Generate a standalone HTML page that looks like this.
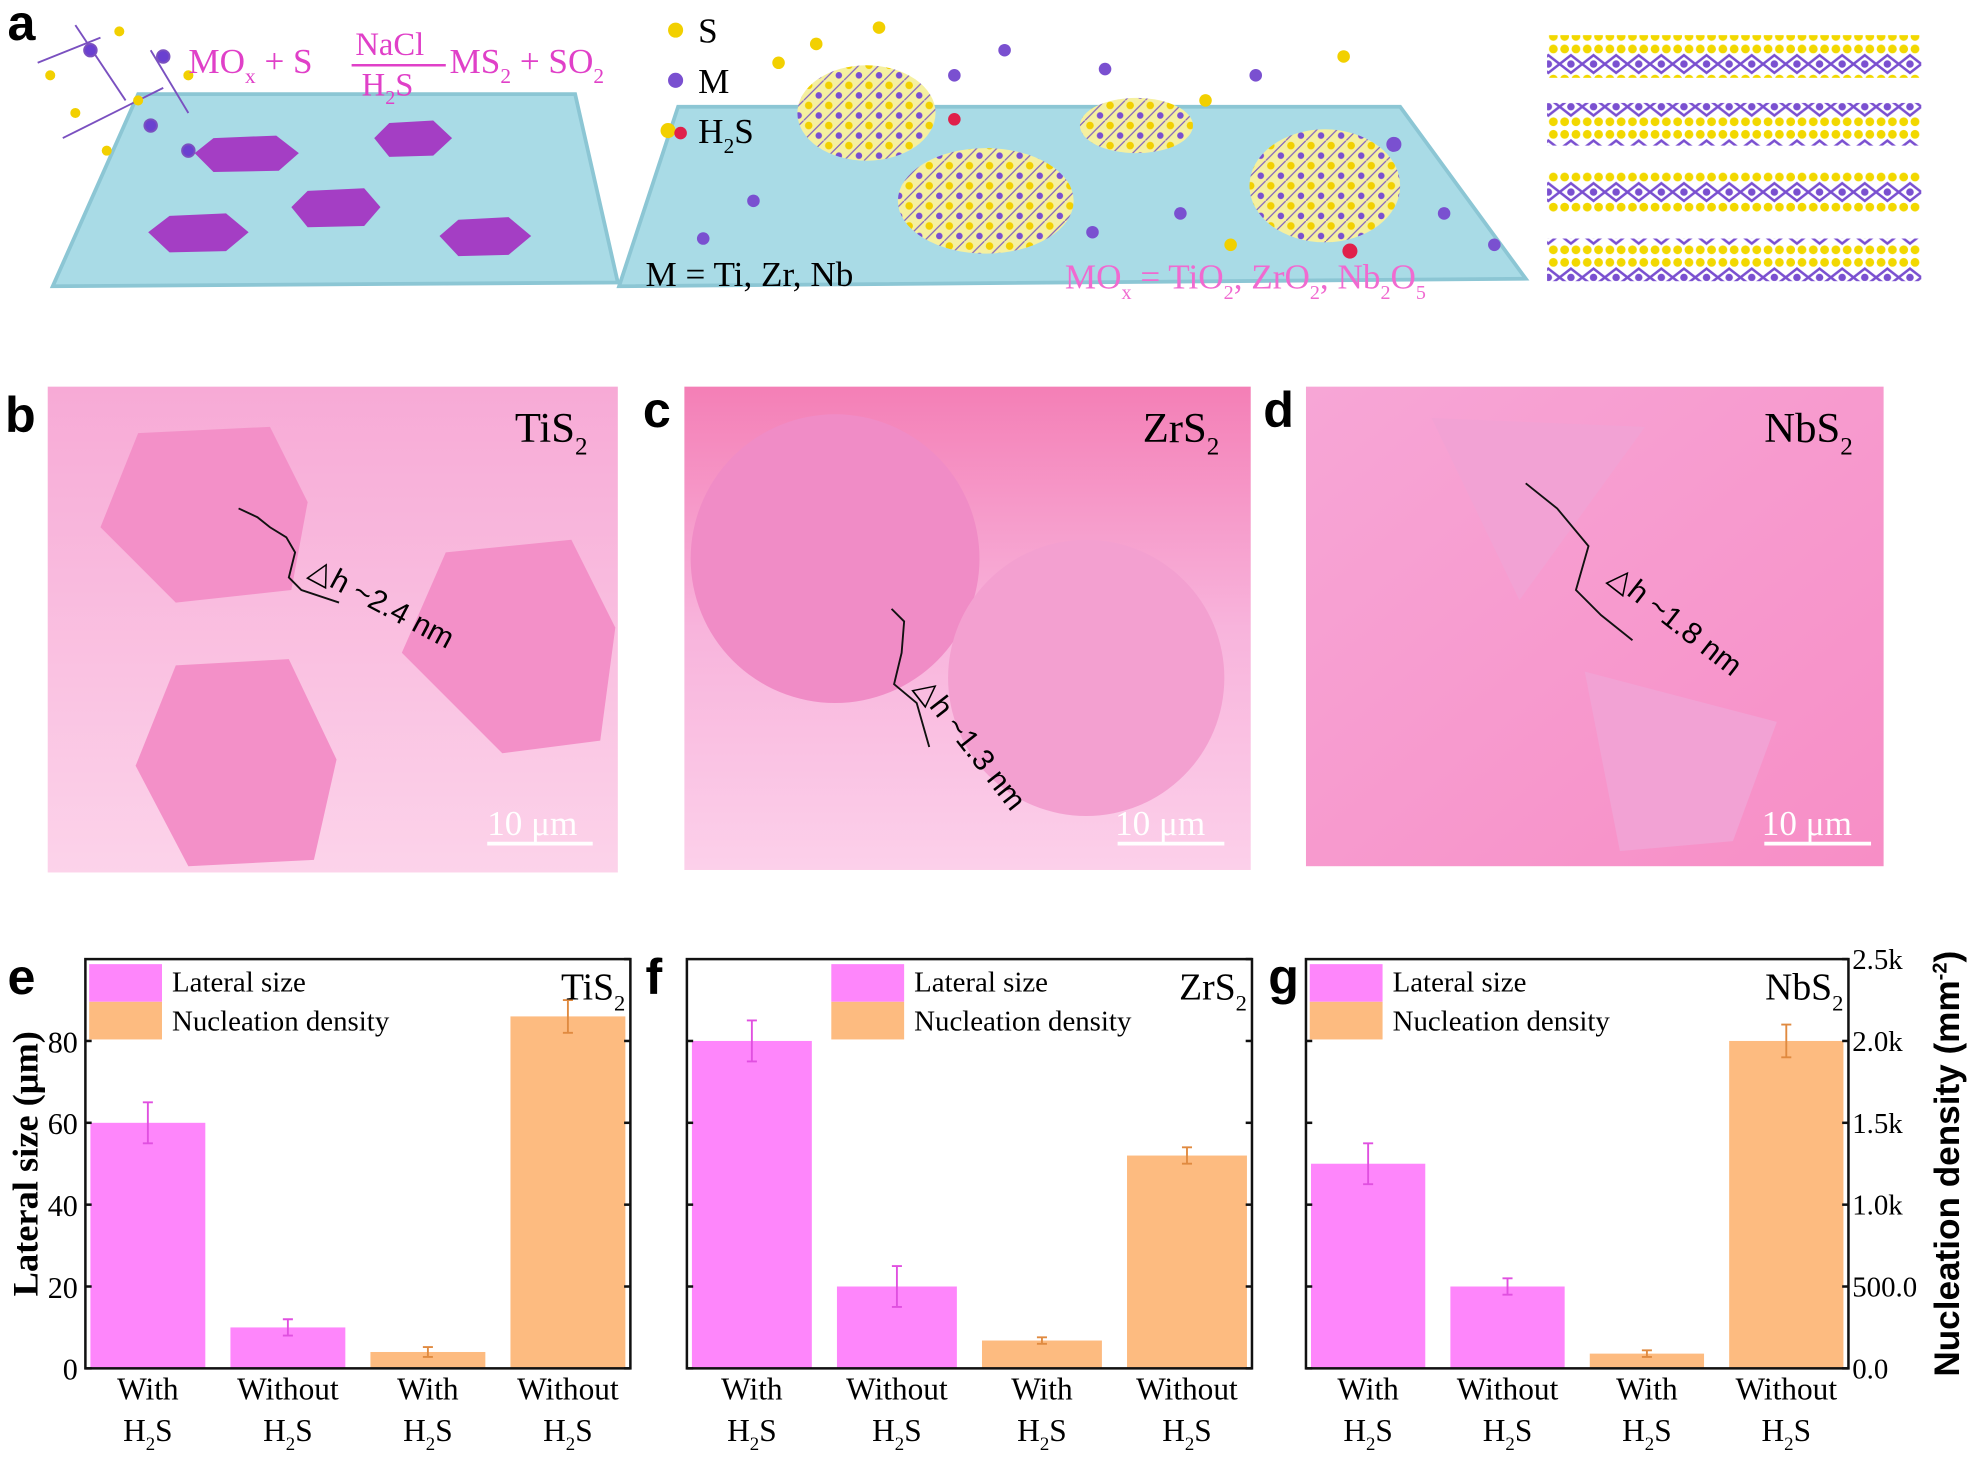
<!DOCTYPE html>
<html><head><meta charset="utf-8"><style>
html,body{margin:0;padding:0;background:#fff;}
svg{display:block;}
.ser{font-family:"Liberation Serif",serif;}
.sans{font-family:"Liberation Sans",sans-serif;}
</style></head><body>
<svg id="fig" width="1969" height="1460" viewBox="0 0 1568 1163" preserveAspectRatio="none" xmlns="http://www.w3.org/2000/svg">
<defs>
<linearGradient id="gb" x1="0" y1="0" x2="0" y2="1"><stop offset="0" stop-color="#f7aad6"/><stop offset="1" stop-color="#fcd3ea"/></linearGradient>
<linearGradient id="gc" x1="0" y1="0" x2="0" y2="1"><stop offset="0" stop-color="#f47fb6"/><stop offset="0.5" stop-color="#f8b4dc"/><stop offset="1" stop-color="#fcd0ea"/></linearGradient>
<linearGradient id="gd" x1="0" y1="0" x2="1" y2="1"><stop offset="0" stop-color="#f7a6d6"/><stop offset="1" stop-color="#f78ec6"/></linearGradient>
<pattern id="lat" width="16" height="16" patternUnits="userSpaceOnUse"><rect width="16" height="16" fill="#f5f0a0"/><circle cx="4" cy="4" r="3" fill="#f2d000"/><circle cx="12" cy="12" r="2.6" fill="#7a50d0"/><path d="M0 16L16 0" stroke="#8060c0" stroke-width="1"/></pattern>
<pattern id="lay" width="18" height="34" patternUnits="userSpaceOnUse"><rect width="18" height="34" fill="#fff"/><circle cx="4" cy="5" r="3.5" fill="#f2d800"/><circle cx="13" cy="5" r="3.5" fill="#f2d800"/><circle cx="4" cy="29" r="3.5" fill="#f2d800"/><circle cx="13" cy="29" r="3.5" fill="#f2d800"/><path d="M0 17L9 10L18 17L9 24Z" fill="none" stroke="#7a50d0" stroke-width="2"/><circle cx="9" cy="17" r="3" fill="#7a50d0"/></pattern>
</defs>

<g>
<text x="6" y="32" class="sans" font-size="40" font-weight="bold">a</text>
<polygon points="110,75 458,75 492,225 42,228" fill="#a9dbe6" stroke="#8cc6d4" stroke-width="3"/>
<g fill="#a43ec4">
<polygon points="170,110 220,108 238,122 222,136 170,137 155,122"/>
<polygon points="310,98 345,96 360,110 345,124 310,125 298,110"/>
<polygon points="245,152 290,150 303,165 290,180 245,181 232,165"/>
<polygon points="135,172 180,170 198,185 180,200 135,201 118,185"/>
<polygon points="365,175 405,173 423,188 405,203 365,204 350,188"/>
</g>
<g stroke="#7a50c0" stroke-width="1.5">
<line x1="30" y1="50" x2="80" y2="30"/><line x1="60" y1="20" x2="100" y2="80"/><line x1="120" y1="40" x2="150" y2="90"/><line x1="50" y1="110" x2="130" y2="70"/>
<circle cx="72" cy="40" r="5" fill="#6a40d0"/><circle cx="120" cy="100" r="5" fill="#6a40d0"/><circle cx="150" cy="120" r="5" fill="#6a40d0"/><circle cx="130" cy="45" r="5" fill="#6a40d0"/>
<circle cx="40" cy="60" r="4" fill="#f2d000" stroke="none"/><circle cx="95" cy="25" r="4" fill="#f2d000" stroke="none"/><circle cx="60" cy="90" r="4" fill="#f2d000" stroke="none"/><circle cx="110" cy="80" r="4" fill="#f2d000" stroke="none"/><circle cx="150" cy="60" r="4" fill="#f2d000" stroke="none"/><circle cx="85" cy="120" r="4" fill="#f2d000" stroke="none"/>
</g>
<text x="150" y="58" class="ser" font-size="28" fill="#e040c8">MO<tspan font-size="17" dy="8">x</tspan><tspan dy="-8"> + S</tspan></text>
<text x="283" y="44" class="ser" font-size="26" fill="#e040c8">NaCl</text>
<line x1="280" y1="52" x2="355" y2="52" stroke="#e040c8" stroke-width="2"/>
<text x="288" y="76" class="ser" font-size="26" fill="#e040c8">H<tspan font-size="16" dy="7">2</tspan><tspan dy="-7">S</tspan></text>
<text x="358" y="58" class="ser" font-size="28" fill="#e040c8">MS<tspan font-size="17" dy="8">2</tspan><tspan dy="-8"> + SO</tspan><tspan font-size="17" dy="8">2</tspan></text>

<polygon points="540,85 1115,85 1215,222 493,228" fill="#a9dbe6" stroke="#8cc6d4" stroke-width="3"/>
<g>
<ellipse cx="690" cy="90" rx="55" ry="38" fill="url(#lat)"/>
<ellipse cx="785" cy="160" rx="70" ry="42" fill="url(#lat)"/>
<ellipse cx="905" cy="100" rx="45" ry="22" fill="url(#lat)"/>
<ellipse cx="1055" cy="148" rx="60" ry="45" fill="url(#lat)"/>
</g>
<g>
<circle cx="620" cy="50" r="5" fill="#f2d000"/><circle cx="650" cy="35" r="5" fill="#f2d000"/><circle cx="700" cy="22" r="5" fill="#f2d000"/><circle cx="760" cy="60" r="5" fill="#7a50d0"/><circle cx="800" cy="40" r="5" fill="#7a50d0"/><circle cx="880" cy="55" r="5" fill="#7a50d0"/><circle cx="960" cy="80" r="5" fill="#f2d000"/><circle cx="1000" cy="60" r="5" fill="#7a50d0"/><circle cx="1110" cy="115" r="6" fill="#7a50d0"/><circle cx="870" cy="185" r="5" fill="#7a50d0"/><circle cx="940" cy="170" r="5" fill="#7a50d0"/><circle cx="980" cy="195" r="5" fill="#f2d000"/><circle cx="1150" cy="170" r="5" fill="#7a50d0"/><circle cx="1190" cy="195" r="5" fill="#7a50d0"/><circle cx="600" cy="160" r="5" fill="#7a50d0"/><circle cx="560" cy="190" r="5" fill="#7a50d0"/><circle cx="1075" cy="200" r="6" fill="#e0204a"/><circle cx="760" cy="95" r="5" fill="#e0204a"/><circle cx="1070" cy="45" r="5" fill="#f2d000"/>
</g>
<g>
<circle cx="538" cy="24" r="6" fill="#f2d000"/><text x="556" y="34" class="ser" font-size="28">S</text>
<circle cx="538" cy="64" r="6" fill="#7a50d0"/><text x="556" y="74" class="ser" font-size="28">M</text>
<circle cx="532" cy="104" r="6" fill="#f2d000"/><circle cx="542" cy="106" r="5" fill="#e0204a"/><text x="556" y="114" class="ser" font-size="28">H<tspan font-size="17" dy="8">2</tspan><tspan dy="-8">S</tspan></text>
</g>
<text x="514" y="228" class="ser" font-size="28">M = Ti, Zr, Nb</text>
<text x="848" y="230" class="ser" font-size="28" fill="#f06ad0">MO<tspan font-size="16" dy="8">x</tspan><tspan dy="-8"> = TiO</tspan><tspan font-size="16" dy="8">2</tspan><tspan dy="-8">, ZrO</tspan><tspan font-size="16" dy="8">2</tspan><tspan dy="-8">, Nb</tspan><tspan font-size="16" dy="8">2</tspan><tspan dy="-8">O</tspan><tspan font-size="16" dy="8">5</tspan></text>
<g>
<rect x="1232" y="28" width="298" height="34" fill="url(#lay)"/>
<rect x="1232" y="82" width="298" height="34" fill="url(#lay)"/>
<rect x="1232" y="136" width="298" height="34" fill="url(#lay)"/>
<rect x="1232" y="190" width="298" height="34" fill="url(#lay)"/>
</g>
</g>

<g>
<text x="4" y="344" class="sans" font-size="40" font-weight="bold">b</text>
<rect x="38" y="308" width="454" height="387" fill="url(#gb)"/>
<polygon points="110,345 215,340 245,400 232,470 140,480 80,420" fill="#f390c8"/>
<polygon points="355,440 455,430 490,500 478,590 400,600 320,520" fill="#f390c8"/>
<polygon points="140,530 230,525 268,605 250,685 150,690 108,610" fill="#f390c8"/>
<text x="410" y="352" class="ser" font-size="34">TiS<tspan font-size="20" dy="10">2</tspan></text>
<polyline points="190,405 205,412 215,420 228,428 235,440 230,460 240,470 270,480" fill="none" stroke="#111" stroke-width="1.5"/>
<text x="245" y="458" class="sans" font-size="24" transform="rotate(28 245 458)">△h ~2.4 nm</text>
<text x="388" y="665" class="ser" font-size="28" fill="#fff">10 μm</text>
<line x1="388" y1="672" x2="472" y2="672" stroke="#fff" stroke-width="3"/>
</g>
<g>
<text x="512" y="340" class="sans" font-size="40" font-weight="bold">c</text>
<rect x="545" y="308" width="451" height="385" fill="url(#gc)"/>
<circle cx="665" cy="445" r="115" fill="#f08cc6"/>
<circle cx="865" cy="540" r="110" fill="#f3a0d0"/>
<text x="910" y="352" class="ser" font-size="34">ZrS<tspan font-size="20" dy="10">2</tspan></text>
<polyline points="710,485 720,495 718,520 712,545 730,560 740,595" fill="none" stroke="#111" stroke-width="1.5"/>
<text x="728" y="548" class="sans" font-size="24" transform="rotate(52 728 548)">△h ~1.3 nm</text>
<text x="888" y="665" class="ser" font-size="28" fill="#fff">10 μm</text>
<line x1="890" y1="672" x2="975" y2="672" stroke="#fff" stroke-width="3"/>
</g>
<g>
<text x="1006" y="340" class="sans" font-size="40" font-weight="bold">d</text>
<rect x="1040" y="308" width="460" height="382" fill="url(#gd)"/>
<polygon points="1140,333 1310,340 1210,478" fill="#f2a2d4"/>
<polygon points="1262,535 1415,575 1380,670 1290,678" fill="#f2a2d4"/>
<text x="1405" y="352" class="ser" font-size="34">NbS<tspan font-size="20" dy="10">2</tspan></text>
<polyline points="1215,385 1240,405 1265,435 1255,470 1275,490 1300,510" fill="none" stroke="#111" stroke-width="1.5"/>
<text x="1280" y="462" class="sans" font-size="24" transform="rotate(38 1280 462)">△h ~1.8 nm</text>
<text x="1403" y="665" class="ser" font-size="28" fill="#fff">10 μm</text>
<line x1="1405" y1="672" x2="1490" y2="672" stroke="#fff" stroke-width="3"/>
</g>
<g id="charts"></g>
</svg>
<script>
const materials = ["TiS2", "ZrS2", "NbS2"];
const categories = ["With", "Without", "With", "Without"];
const lateralSize = [[60, 10], [80, 20], [50, 20]];
const lateralErr = [[5, 2], [5, 5], [5, 2]];
const nucDensity = [[0.10, 2.15], [0.17, 1.3], [0.09, 2.0]];
const nucErr = [[0.03, 0.1], [0.02, 0.05], [0.02, 0.1]];
const leftTicks = [0, 20, 40, 60, 80];
const rightTicks = [0, 0.5, 1.0, 1.5, 2.0, 2.5];
const rightTickLabels = ["0.0", "500.0", "1.0k", "1.5k", "2.0k", "2.5k"];

const NS = "http://www.w3.org/2000/svg";
const root = document.getElementById("charts");
const panels = [
  {x: 68, w: 434, letter: "e", lx: 6},
  {x: 547, w: 450, letter: "f", lx: 514},
  {x: 1040, w: 432, letter: "g", lx: 1010}
];
const top0 = 764, bot = 1090, H = bot - top0;
const LMAX = 100, RMAX = 2.5;
const yL = v => bot - v / LMAX * H;
const yR = v => bot - v / RMAX * H;
function mk(tag, attrs, parent, text) {
  const e = document.createElementNS(NS, tag);
  for (const k in attrs) e.setAttribute(k, attrs[k]);
  if (text !== undefined) e.textContent = text;
  (parent || root).appendChild(e);
  return e;
}
panels.forEach((p, pi) => {
  const g = mk("g", {});
  
  
  const lab = mk("text", {x: p.lx, y: 792, "font-size": 40, "font-weight": "bold", "class": "sans"}, g, p.letter);
  
  
  const gap = 20, pad = 4;
  const bw = (p.w - 2 * pad - 3 * gap) / 4;
  const bx = i => p.x + pad + i * (bw + gap);
  const vals = [lateralSize[pi][0], lateralSize[pi][1], nucDensity[pi][0], nucDensity[pi][1]];
  const errs = [lateralErr[pi][0], lateralErr[pi][1], nucErr[pi][0], nucErr[pi][1]];
  vals.forEach((v, i) => {
    const isL = i < 2;
    const y = isL ? yL(v) : yR(v);
    const col = isL ? "#fe86fb" : "#fdbb80";
    const r = mk("rect", {x: bx(i), y: y, width: bw, height: bot - y, fill: col}, g);
    
    
    const e = errs[i];
    const y1 = isL ? yL(v + e) : yR(v + e), y2 = isL ? yL(v - e) : yR(v - e);
    const cx = bx(i) + bw / 2;
    const ec = isL ? "#e050e0" : "#e08a40";
    const eb = mk("path", {d: `M${cx} ${y1}V${y2}M${cx-4} ${y1}H${cx+4}M${cx-4} ${y2}H${cx+4}`, stroke: ec, "stroke-width": 1.5, fill: "none"}, g);
    
    
    const t1 = mk("text", {x: cx, y: 1115, "font-size": 25, "text-anchor": "middle", "class": "ser"}, g, categories[i]);
    
    
    const t2 = mk("text", {x: cx, y: 1148, "font-size": 25, "text-anchor": "middle", "class": "ser"}, g);
    t2.innerHTML = 'H<tspan font-size="15" dy="7">2</tspan><tspan dy="-7">S</tspan>';
    
    
  });
  const frame = mk("rect", {x: p.x, y: top0, width: p.w, height: H, fill: "none", stroke: "#111", "stroke-width": 2}, g);
  
  
  leftTicks.forEach(t => {
    const tk = mk("line", {x1: p.x, x2: p.x + 5, y1: yL(t), y2: yL(t), stroke: "#111", "stroke-width": 2}, g);
    
    
    if (pi === 0) {
      const tl = mk("text", {x: p.x - 6, y: yL(t) + 9, "font-size": 24, "text-anchor": "end", "class": "ser"}, g, String(t));
      
      
    }
  });
  rightTicks.forEach((t, k) => {
    const tk = mk("line", {x1: p.x + p.w - 5, x2: p.x + p.w, y1: yR(t), y2: yR(t), stroke: "#111", "stroke-width": 2}, g);
    
    
    if (pi === 2) {
      const tl = mk("text", {x: p.x + p.w + 3, y: yR(t) + 8, "font-size": 23, "class": "ser"}, g, rightTickLabels[k]);
      
      
    }
  });
  const lx = p.x + 3;
  const legOff = pi === 1 ? 112 : 0;
  const s1 = mk("rect", {x: lx + legOff, y: 768, width: 58, height: 30, fill: "#fe86fb"}, g);
  
  
  const s2 = mk("rect", {x: lx + legOff, y: 798, width: 58, height: 30, fill: "#fdbb80"}, g);
  
  
  const l1 = mk("text", {x: lx + 66 + legOff, y: 790, "font-size": 23, "class": "ser"}, g, "Lateral size");
  
  
  const l2 = mk("text", {x: lx + 66 + legOff, y: 821, "font-size": 23, "class": "ser"}, g, "Nucleation density");
  
  
  const mt = mk("text", {x: p.x + p.w - 4, y: 796, "font-size": 30, "text-anchor": "end", "class": "ser"}, g);
  mt.innerHTML = materials[pi].slice(0, -1) + '<tspan font-size="18" dy="9">2</tspan>';
  
  
});
const yt = mk("text", {x: 0, y: 0, "font-size": 29, "font-weight": "bold", "text-anchor": "middle", "class": "ser", transform: "translate(30 927) rotate(-90)"}, root, "Lateral size (μm)");


const yt2 = mk("text", {x: 0, y: 0, "font-size": 28, "font-weight": "bold", "text-anchor": "middle", "class": "sans", transform: "translate(1560 927) rotate(-90)"}, root);
yt2.innerHTML = 'Nucleation density (mm<tspan font-size="16" dy="-10">-2</tspan><tspan dy="10">)</tspan>';


</script>
</body></html>
